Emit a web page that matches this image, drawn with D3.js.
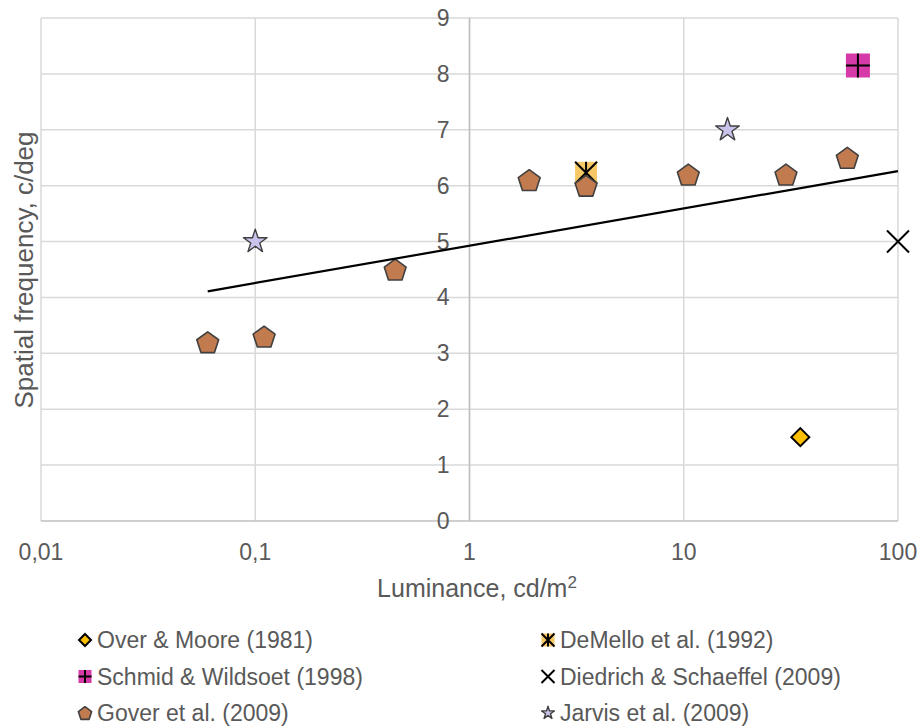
<!DOCTYPE html>
<html>
<head>
<meta charset="utf-8">
<script src="https://cdn.jsdelivr.net/npm/d3@7"></script>
<style>
  body { margin: 0; background: #fff; }
  text { font-family: "Liberation Sans", Arial, sans-serif; fill: #595959; }
</style>
</head>
<body>
<svg id="chart" width="923" height="728"></svg>
<script>
// data
var xTicks = [0.01, 0.1, 1, 10, 100];
var xTickLabels = ["0,01", "0,1", "1", "10", "100"];
var yTicks = [0, 1, 2, 3, 4, 5, 6, 7, 8, 9];

var overX = [35], overY = [1.5];
var demelloX = [3.5], demelloY = [6.23];
var schmidX = [65], schmidY = [8.15];
var diedrichX = [100], diedrichY = [5.0];
var goverX = [0.06, 0.11, 0.45, 1.9, 3.5, 10.5, 30, 58];
var goverY = [3.2, 3.3, 4.5, 6.1, 6.0, 6.2, 6.2, 6.5];
var jarvisX = [0.1, 16], jarvisY = [5.0, 7.0];
// trend line end points
var trendX = [0.06, 100], trendY = [4.11, 6.26];

var seriesNames = ["Over & Moore (1981)", "DeMello et al. (1992)", "Schmid & Wildsoet (1998)",
  "Diedrich & Schaeffel (2009)", "Gover et al. (2009)", "Jarvis et al. (2009)"];

var svg = d3.select("#chart");
var x = d3.scaleLog().domain([0.01, 100]).range([41, 898]);
var y = d3.scaleLinear().domain([0, 9]).range([521, 18]);

// grid
svg.append("g").selectAll("line").data(yTicks.slice(1)).join("line")
  .attr("x1", x(0.01)).attr("x2", x(100))
  .attr("y1", function(d){ return y(d); }).attr("y2", function(d){ return y(d); })
  .attr("stroke", "#d9d9d9").attr("stroke-width", 1.5);
svg.append("g").selectAll("line").data(xTicks).join("line")
  .attr("x1", function(d){ return x(d); }).attr("x2", function(d){ return x(d); })
  .attr("y1", y(9)).attr("y2", y(0))
  .attr("stroke", "#d9d9d9").attr("stroke-width", 1.5);

// axes lines
svg.append("line").attr("x1", x(1)).attr("x2", x(1)).attr("y1", y(9)).attr("y2", y(0))
  .attr("stroke", "#bfbfbf").attr("stroke-width", 1.5);
svg.append("line").attr("x1", x(0.01)).attr("x2", x(100)).attr("y1", y(0)).attr("y2", y(0))
  .attr("stroke", "#bfbfbf").attr("stroke-width", 1.5);

// tick labels
svg.append("g").selectAll("text").data(yTicks).join("text")
  .attr("x", x(1) - 20).attr("y", function(d){ return y(d); })
  .attr("dy", "0.35em").attr("text-anchor", "end")
  .style("font-size", "23px").text(function(d){ return d; });
svg.append("g").selectAll("text").data(xTicks).join("text")
  .attr("x", function(d){ return x(d); }).attr("y", 551.5)
  .attr("dy", "0.35em").attr("text-anchor", "middle")
  .style("font-size", "23px").text(function(d, i){ return xTickLabels[i]; });

// axis titles
var xt = svg.append("text").attr("x", 477).attr("y", 597).attr("text-anchor", "middle")
  .style("font-size", "25px");
xt.append("tspan").text("Luminance, cd/m");
xt.append("tspan").attr("dy", -9).style("font-size", "17px").text("2");
svg.append("text").attr("transform", "translate(33,270) rotate(-90)")
  .attr("text-anchor", "middle").style("font-size", "26px").text("Spatial frequency, c/deg");

// marker makers
function pentagon(r) {
  var pts = [];
  for (var i = 0; i < 5; i++) {
    var a = -Math.PI / 2 + i * 2 * Math.PI / 5;
    pts.push([r * Math.cos(a), r * Math.sin(a) + r * 0.1]);
  }
  return "M" + pts.join("L") + "Z";
}
function drawDiamond(g, s) {
  g.append("path").attr("d", "M0," + (-s) + "L" + s + ",0L0," + s + "L" + (-s) + ",0Z")
    .attr("fill", "#ffc000").attr("stroke", "#000").attr("stroke-width", 2);
}
function drawDemello(g, s) {
  g.append("rect").attr("x", -s).attr("y", -s).attr("width", 2 * s).attr("height", 2 * s)
    .attr("fill", "#f7c865");
  g.append("path").attr("d", "M" + (-s) + "," + (-s) + "L" + s + "," + s + "M" + s + "," + (-s) + "L" + (-s) + "," + s + "M0," + (-s) + "L0," + s)
    .attr("stroke", "#000").attr("stroke-width", 2);
}
function drawSchmid(g, s) {
  g.append("rect").attr("x", -s).attr("y", -s).attr("width", 2 * s).attr("height", 2 * s)
    .attr("fill", "#d63aa8");
  g.append("path").attr("d", "M" + (-s) + ",0L" + s + ",0M0," + (-s) + "L0," + s)
    .attr("stroke", "#000").attr("stroke-width", 2);
}
function drawTimes(g, s) {
  g.append("path").attr("d", "M" + (-s) + "," + (-s) + "L" + s + "," + s + "M" + s + "," + (-s) + "L" + (-s) + "," + s)
    .attr("stroke", "#000").attr("stroke-width", 2);
}
function drawPentagon(g, s) {
  g.append("path").attr("d", pentagon(s))
    .attr("fill", "#c27a4f").attr("stroke", "#404040").attr("stroke-width", 1.6).attr("stroke-linejoin", "round");
}
function drawStar(g, s) {
  g.append("path").attr("d", d3.symbol(d3.symbolStar, s * s * 1.2)())
    .attr("fill", "#cbc3ec").attr("stroke", "#404040").attr("stroke-width", 1.4).attr("stroke-linejoin", "round");
}

function plot(xs, ys, fn, s) {
  xs.forEach(function(v, i) {
    var g = svg.append("g").attr("transform", "translate(" + x(v) + "," + y(ys[i]) + ")");
    fn(g, s);
  });
}

plot(overX, overY, drawDiamond, 9);
plot(demelloX, demelloY, drawDemello, 11);
plot(schmidX, schmidY, drawSchmid, 12);
plot(diedrichX, diedrichY, drawTimes, 11);
plot(goverX, goverY, drawPentagon, 11.5);
plot(jarvisX, jarvisY, drawStar, 12);

// trend line
svg.append("path")
  .attr("d", d3.line().x(function(d){ return x(d[0]); }).y(function(d){ return y(d[1]); })(d3.zip(trendX, trendY)))
  .attr("stroke", "#000").attr("stroke-width", 2.2).attr("fill", "none");

// legend
var legendFns = [[drawDiamond, 6], [drawDemello, 6.5], [drawSchmid, 6.5], [drawTimes, 6.5], [drawPentagon, 7], [drawStar, 6.5]];
seriesNames.forEach(function(name, i) {
  var col = i % 2, row = Math.floor(i / 2);
  var mx = col === 0 ? 85 : 548;
  var my = 640 + row * 36.5;
  var g = svg.append("g").attr("transform", "translate(" + mx + "," + my + ")");
  legendFns[i][0](g, legendFns[i][1]);
  svg.append("text").attr("x", mx + 12).attr("y", my).attr("dy", "0.35em")
    .style("font-size", "23px").text(name);
});
</script>
</body>
</html>
